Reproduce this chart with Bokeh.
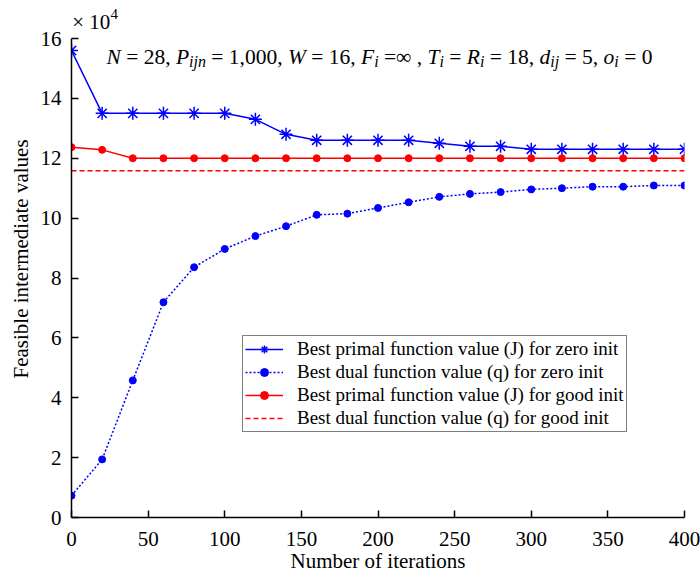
from bokeh.plotting import figure
from bokeh.models import Label, Legend, LegendItem, Range1d
from bokeh.embed import file_html
from bokeh.resources import INLINE

# ---- data (values in units of 10^4) ----
iterations = [0, 20, 40, 60, 80, 100, 120, 140, 160, 180, 200,
              220, 240, 260, 280, 300, 320, 340, 360, 380, 400]
primal_zero = [15.6, 13.5, 13.5, 13.5, 13.5, 13.5, 13.3, 12.8, 12.6, 12.6, 12.6,
               12.6, 12.5, 12.4, 12.4, 12.3, 12.3, 12.3, 12.3, 12.3, 12.3]
dual_zero = [0.73, 1.94, 4.58, 7.19, 8.36, 8.97, 9.40, 9.73, 10.11, 10.15, 10.34,
             10.53, 10.71, 10.81, 10.87, 10.96, 11.00, 11.05, 11.05, 11.09, 11.09]
primal_good = [12.37, 12.28, 12.0, 12.0, 12.0, 12.0, 12.0, 12.0, 12.0, 12.0, 12.0,
               12.0, 12.0, 12.0, 12.0, 12.0, 12.0, 12.0, 12.0, 12.0, 12.0]
dual_good = [11.58, 11.58, 11.58, 11.58, 11.58, 11.58, 11.58, 11.58, 11.58, 11.58, 11.58,
             11.58, 11.58, 11.58, 11.58, 11.58, 11.58, 11.58, 11.58, 11.58, 11.58]
x_ticks = [0, 50, 100, 150, 200, 250, 300, 350, 400]
y_ticks = [0, 2, 4, 6, 8, 10, 12, 14, 16]

legend_labels = [
    "Best primal function value (J) for zero init",
    "Best dual function value (q) for zero init",
    "Best primal function value (J) for good init",
    "Best dual function value (q) for good init",
]

FONT = "Liberation Serif"
BLUE = "#0000ff"
RED = "#ff0000"

# layout (pixels)
W, H = 700, 575
FR_LEFT, FR_RIGHT, FR_BOTTOM = 71, 684, 517
AXIS_TOP = 38                      # pixel row of the y = 16 tick
Y_MAX = 16
# frame runs to the top of the canvas; the axis itself stops at 16
y_end = Y_MAX * FR_BOTTOM / (FR_BOTTOM - AXIS_TOP)

p = figure(width=W, height=H, output_backend="svg", toolbar_location=None,
           x_range=Range1d(0, 400), y_range=Range1d(0, y_end),
           min_border_left=FR_LEFT, min_border_right=W - FR_RIGHT, min_border_top=0,
           min_border_bottom=H - FR_BOTTOM)
p.outline_line_color = None
p.xgrid.visible = False
p.ygrid.visible = False
p.background_fill_color = "white"
p.border_fill_color = "white"

for ax in (p.xaxis[0], p.yaxis[0]):
    ax.major_tick_in = 7
    ax.major_tick_out = 0
    ax.minor_tick_line_color = None
    ax.axis_line_width = 1.5
    ax.axis_line_color = "black"
    ax.major_tick_line_width = 1.5
    ax.major_tick_line_color = "black"
    ax.major_label_text_font = FONT
    ax.major_label_text_font_size = "21px"
    ax.major_label_text_color = "black"
    ax.axis_label_text_font = FONT
    ax.axis_label_text_font_size = "21px"
    ax.axis_label_text_font_style = "normal"
    ax.axis_label_text_color = "black"

p.xaxis.ticker = x_ticks
p.yaxis.ticker = y_ticks
p.yaxis.bounds = (0, Y_MAX)
p.xaxis.axis_label = "Number of iterations"
p.yaxis.axis_label = "Feasible intermediate values"
p.xaxis.major_label_standoff = 14
p.yaxis.major_label_standoff = 10
p.xaxis.axis_label_standoff = 0
p.yaxis.axis_label_standoff = 5

# ---- series ----
l1 = p.line(iterations, primal_zero, line_color=BLUE, line_width=1.5)
s1 = p.scatter(iterations, primal_zero, marker="asterisk", size=13,
               line_color=BLUE, line_width=1.5)
l2 = p.line(iterations, dual_zero, line_color=BLUE, line_width=1.5, line_dash="2 2")
s2 = p.scatter(iterations, dual_zero, marker="circle", size=7,
               fill_color=BLUE, line_color=BLUE)
l3 = p.line(iterations, primal_good, line_color=RED, line_width=1.5)
s3 = p.scatter(iterations, primal_good, marker="circle", size=7,
               fill_color=RED, line_color=RED)
l4 = p.line(iterations, dual_good, line_color=RED, line_width=1.5, line_dash="5 3")

legend = Legend(items=[
    LegendItem(label=legend_labels[0], renderers=[l1, s1]),
    LegendItem(label=legend_labels[1], renderers=[l2, s2]),
    LegendItem(label=legend_labels[2], renderers=[l3, s3]),
    LegendItem(label=legend_labels[3], renderers=[l4]),
], location=(171, 85))
legend.label_text_font = FONT
legend.label_text_font_size = "19px"
legend.label_text_color = "black"
legend.border_line_color = "black"
legend.border_line_width = 1.5
legend.background_fill_color = "white"
legend.background_fill_alpha = 1.0
legend.padding = 2
legend.spacing = 1
legend.margin = 0
legend.glyph_width = 38
legend.glyph_height = 20
legend.label_height = 20
legend.label_standoff = 14
p.add_layout(legend, "center")


def add_text(x, y, text, size, style="normal"):
    p.add_layout(Label(x=x, y=y, x_units="screen", y_units="screen", text=text,
                       text_font=FONT, text_font_size=f"{size}px",
                       text_font_style=style, text_color="black",
                       text_baseline="alphabetic", text_align="left"))

# ---- "x 10^4" exponent label ----
add_text(0.7, FR_BOTTOM - 21, "\u00d7 10", 21)
add_text(39, FR_BOTTOM - 13, "4", 15)

# ---- parameter annotation, laid out with Times-metric advance widths ----
ADV = {" ": 0.25, "=": 0.564, ",": 0.25, "\u221e": 0.713,
       "0": 0.5, "1": 0.5, "2": 0.5, "5": 0.5, "6": 0.5, "8": 0.5,
       "N": 0.667, "P": 0.611, "W": 0.833, "F": 0.611, "T": 0.556, "R": 0.611,
       "d": 0.5, "o": 0.5, "i": 0.278, "j": 0.278, "n": 0.5}
MAIN, SUBSZ = 21.5, 16
BASE_Y = FR_BOTTOM - 56
SUB_Y = BASE_Y - 5
# (text, italic, subscript, spaces before)
tokens = [
    ("N", True, False, 0), ("= 28,", False, False, 1),
    ("P", True, False, 1), ("ijn", True, True, 0), ("= 1,000,", False, False, 1),
    ("W", True, False, 1), ("= 16,", False, False, 1),
    ("F", True, False, 1), ("i", True, True, 0), ("=\u221e", False, False, 1),
    (",", False, False, 1),
    ("T", True, False, 1), ("i", True, True, 0), ("=", False, False, 1),
    ("R", True, False, 1), ("i", True, True, 0), ("= 18,", False, False, 1),
    ("d", True, False, 1), ("ij", True, True, 0), ("= 5,", False, False, 1),
    ("o", True, False, 1), ("i", True, True, 0), ("= 0", False, False, 1),
]
cx = 106 - FR_LEFT
for text, italic, sub, sp in tokens:
    cx += sp * ADV[" "] * MAIN
    size = SUBSZ if sub else MAIN
    add_text(cx, SUB_Y if sub else BASE_Y, text, size, "italic" if italic else "normal")
    cx += sum(ADV[c] for c in text) * size

open("out.html", "w").write(file_html(p, INLINE))
